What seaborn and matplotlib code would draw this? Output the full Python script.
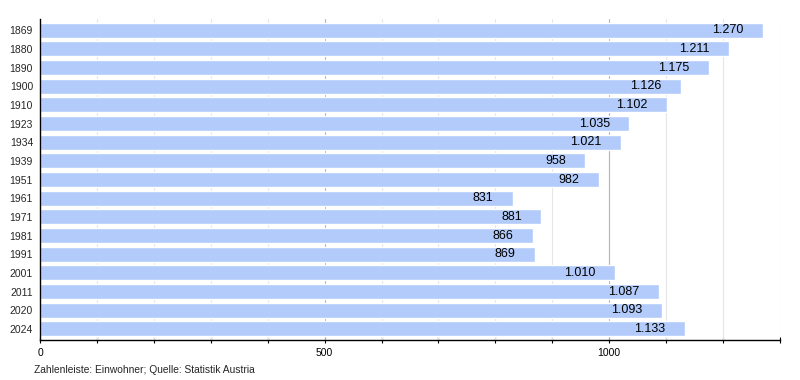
import matplotlib
matplotlib.use("Agg")
import matplotlib.pyplot as plt
import seaborn as sns
import pandas as pd
from matplotlib.ticker import MultipleLocator, FixedLocator

years = ["1869", "1880", "1890", "1900", "1910", "1923", "1934", "1939", "1951",
         "1961", "1971", "1981", "1991", "2001", "2011", "2020", "2024"]
population = [1270, 1211, 1175, 1126, 1102, 1035, 1021, 958, 982,
              831, 881, 866, 869, 1010, 1087, 1093, 1133]
x_tick_labels = ["0", "500", "1000"]
caption = "Zahlenleiste: Einwohner; Quelle: Statistik Austria"

df = pd.DataFrame({"Jahr": years, "Einwohner": population})

sns.set_theme(style="white")
plt.rcParams["font.family"] = ["Liberation Sans", "DejaVu Sans"]

fig = plt.figure(figsize=(8, 3.8), dpi=100)
ax = fig.add_axes([0.05, 0.105, 0.925, 0.845])

sns.barplot(data=df, x="Einwohner", y="Jahr", orient="h", color="#b3cbfa",
            saturation=1, width=0.8, ax=ax, zorder=2)

ax.set_xlim(0, 1300)
ax.set_ylim(len(years) - 0.4, -0.6)

# grid
for v in range(100, 1301, 100):
    col = "#b4b4b4" if v in (500, 1000) else "#e6e6e6"
    ax.axvline(v, color=col, lw=0.8, zorder=1)

ax.xaxis.set_major_locator(FixedLocator([0, 500, 1000]))
ax.set_xticklabels(x_tick_labels)
ax.xaxis.set_minor_locator(MultipleLocator(100))
ax.tick_params(axis="x", which="both", direction="inout", length=4, width=0.8,
               colors="black", labelsize=7.5, bottom=True, pad=4)
ax.tick_params(axis="y", left=False, length=0, labelsize=7.5, pad=5)

for s in ["top", "right"]:
    ax.spines[s].set_visible(False)
for s in ["left", "bottom"]:
    ax.spines[s].set_color("black")
    ax.spines[s].set_linewidth(1.0)

ax.set_xlabel("")
ax.set_ylabel("")

for i, v in enumerate(population):
    lab = f"{v:,}".replace(",", ".")
    ax.annotate(lab, xy=(v, i), xytext=(-14, 0), textcoords="offset points",
                ha="right", va="center", fontsize=9, color="black", zorder=3)

fig.text(0.043, 0.027, caption, fontsize=7.4, ha="left", va="center")

fig.savefig("out.png", dpi=100)
